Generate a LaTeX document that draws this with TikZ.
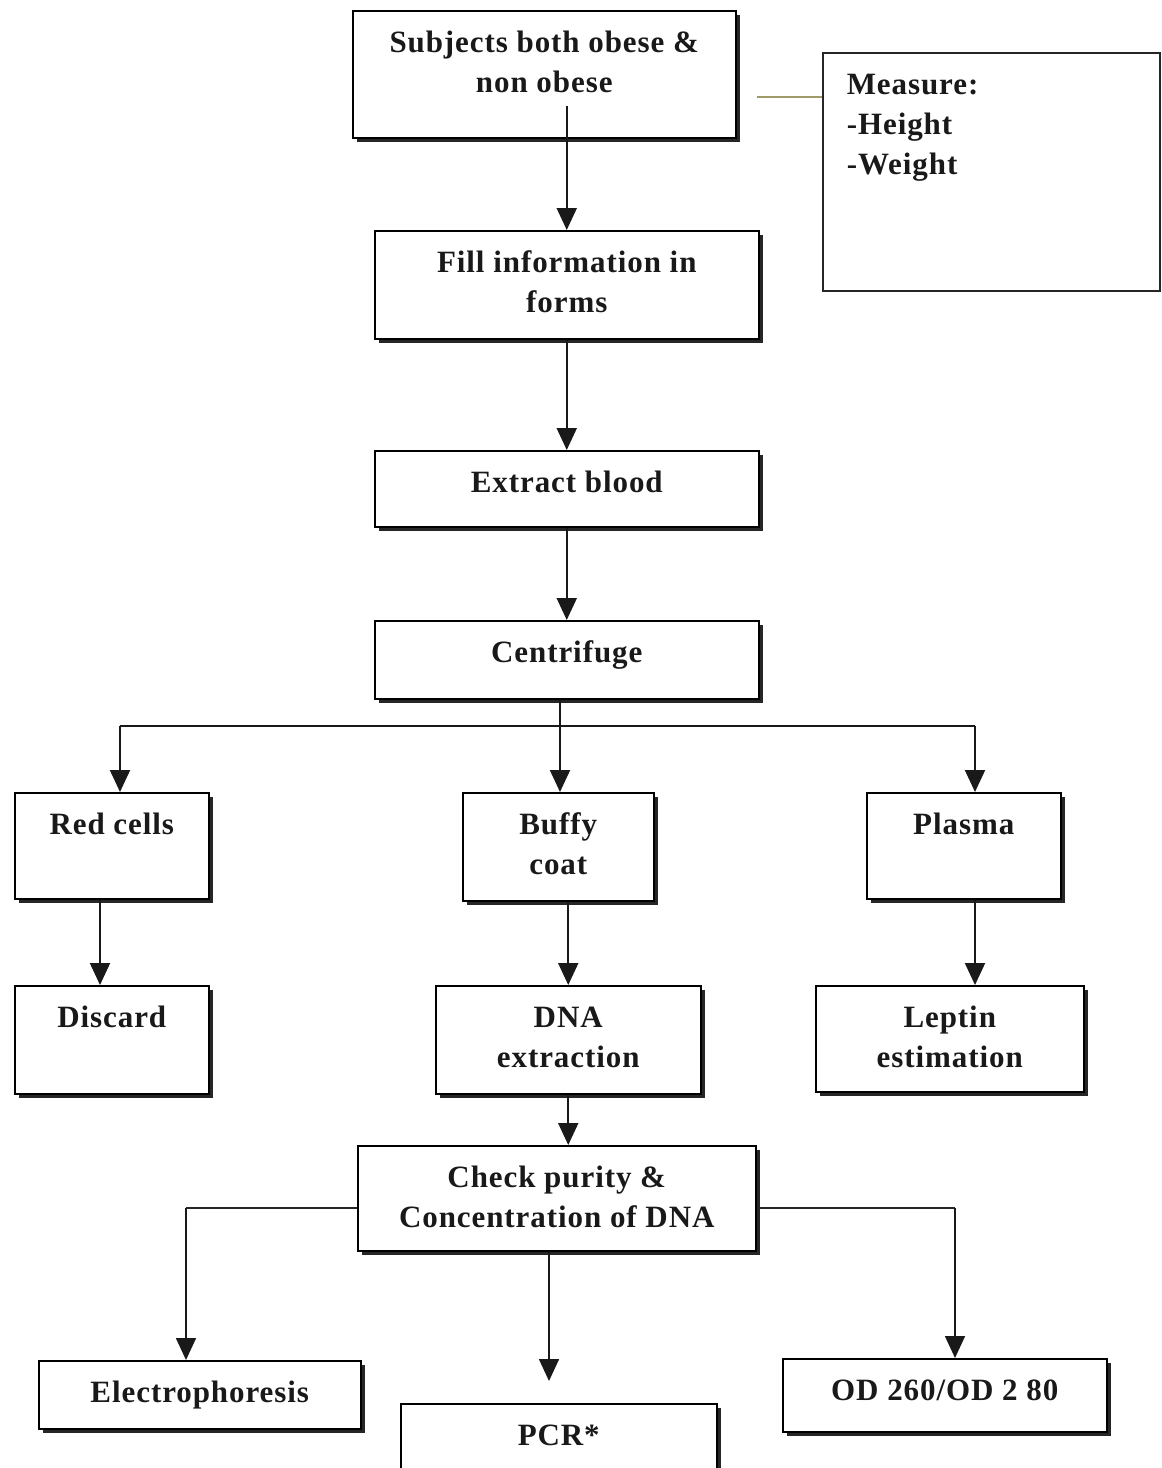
\documentclass[tikz,border=0pt]{standalone}
\usepackage{fontspec}
\setmainfont{Liberation Serif}[LetterSpace=3]
\usetikzlibrary{arrows.meta,shadows,calc}
\newcommand{\bxt}[3]{\parbox[c][#2pt][t]{#1pt}{\centering\vspace*{14pt}\strut #3}}
\tikzset{
  flowbox/.style={draw=black, line width=1.5pt, fill=white, inner sep=0pt, anchor=north west,
    font=\fontsize{31}{40}\selectfont\bfseries, text=black!90,
    drop shadow={shadow xshift=4.5pt, shadow yshift=-4.5pt, fill=black!85, opacity=1}},
  plainbox/.style={draw=black!85, line width=1.5pt, fill=white, inner sep=0pt, anchor=north west,
    font=\fontsize{31}{40}\selectfont\bfseries, text=black!90},
  arr/.style={draw=black!90, line width=2pt, -{Triangle[width=20pt,length=22pt]}},
  link/.style={draw=black!90, line width=2pt},
  thinlink/.style={draw=black!85, line width=1.2pt},
  thinarr/.style={draw=black!90, line width=1.6pt, -{Triangle[width=20pt,length=22pt]}},
  measlink/.style={draw=black!45!olive!60, line width=1.2pt}
}
\begin{document}
\begin{tikzpicture}[x=1pt,y=-1pt]
\useasboundingbox[fill=white] (0,0) rectangle (1162,1468);

\node[flowbox] (subj) at (352,10) {\bxt{383}{127}{Subjects both obese \&\\ non obese}};
\node[plainbox] (meas) at (822,52) {\parbox[c][238pt][t]{337pt}{\raggedright\leftskip=24pt\vspace*{14pt}\strut Measure:\\ -Height\\ -Weight}};
\node[flowbox] (fill) at (374,230) {\bxt{384}{108}{Fill information in\\ forms}};
\node[flowbox] (extr) at (374,450) {\bxt{384}{76}{Extract blood}};
\node[flowbox] (cent) at (374,620) {\bxt{384}{78}{Centrifuge}};
\node[flowbox] (red) at (14,792) {\bxt{194}{106}{Red cells}};
\node[flowbox] (buffy) at (462,792) {\bxt{191}{108}{Buffy\\ coat}};
\node[flowbox] (plasma) at (866,792) {\bxt{194}{106}{Plasma}};
\node[flowbox] (disc) at (14,985) {\bxt{194}{108}{Discard}};
\node[flowbox] (dna) at (435,985) {\bxt{265}{108}{DNA\\ extraction}};
\node[flowbox] (lep) at (815,985) {\bxt{268}{106}{Leptin\\ estimation}};
\node[flowbox] (check) at (357,1145) {\bxt{398}{105}{Check purity \&\\ Concentration of DNA}};
\node[flowbox] (elec) at (38,1360) {\bxt{322}{68}{Electrophoresis}};
\node[flowbox] (pcr) at (400,1403) {\bxt{316}{80}{PCR*}};
\node[flowbox] (od) at (782,1358) {\bxt{324}{73}{OD 260/OD 2 80}};

% measure link
\coordinate (mstart) at (757,97);
\draw[measlink] (mstart) -- (mstart -| meas.west);

% main column
\draw[arr] ([yshift=33pt]subj.south -| fill.north) -- (fill.north);
\draw[arr] (fill.south) -- (extr.north);
\draw[arr] (extr.south) -- (cent.north);

% centrifuge branching
\coordinate (jl) at (120,726);
\coordinate (jr) at (975,726);
\coordinate (jm) at (560,726);
\draw[link] (jl) -- (jr);
\draw[arr] (cent.south -| jm) -- (jm |- buffy.north);
\draw[arr] (jl) -- (jl |- red.north);
\draw[arr] (jr) -- (jr |- plasma.north);

% second level
\coordinate (rx) at (100,0);
\coordinate (px) at (975,0);
\draw[arr] (red.south -| rx) -- (disc.north -| rx);
\draw[arr] (buffy.south -| dna.north) -- (dna.north);
\draw[arr] (plasma.south -| px) -- (lep.north -| px);
\draw[arr] (dna.south) -- (dna.south |- check.north);

% check branching
\coordinate (cl) at (186,1208);
\coordinate (cr) at (955,1208);
\coordinate (pcrtip) at (549,1381);
\draw[thinlink] (check.west |- cl) -- (cl);
\draw[thinarr] (cl) -- (cl |- elec.north);
\draw[thinlink] (check.east |- cr) -- (cr);
\draw[thinarr] (cr) -- (cr |- od.north);
\draw[thinarr] (check.south -| pcrtip) -- (pcrtip);
\end{tikzpicture}
\end{document}
